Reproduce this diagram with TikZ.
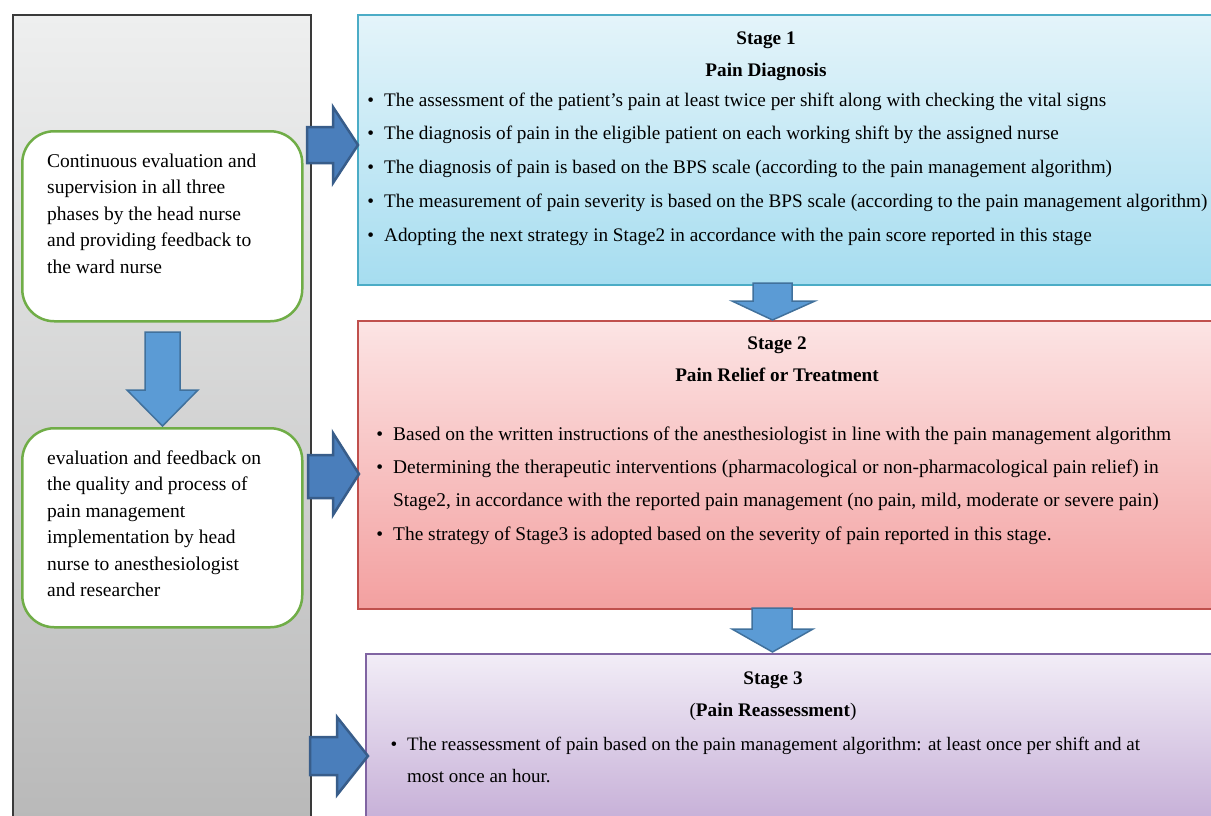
\documentclass[tikz,border=0pt]{standalone}
\usepackage{fontspec}
\setmainfont{Liberation Serif}
\usepackage{enumitem}
\usepackage{xcolor}

\definecolor{panelline}{HTML}{3A3A3A}
\definecolor{paneltop}{HTML}{EEEFEF}
\definecolor{panelbottom}{HTML}{B8B8B8}
\definecolor{notegreen}{HTML}{70AD47}
\definecolor{diagline}{HTML}{4BACC6}
\definecolor{diagtop}{HTML}{E4F4FA}
\definecolor{diagbottom}{HTML}{A6DDF0}
\definecolor{reliefline}{HTML}{C0504D}
\definecolor{relieftop}{HTML}{FCE4E4}
\definecolor{reliefbottom}{HTML}{F3A0A0}
\definecolor{reassline}{HTML}{8064A2}
\definecolor{reasstop}{HTML}{F2EDF7}
\definecolor{reassbottom}{HTML}{C3ABD5}
\definecolor{arrowfill}{HTML}{4A7EBB}
\definecolor{arrowline}{HTML}{385D8A}
\definecolor{downfill}{HTML}{5B9BD5}
\definecolor{downline}{HTML}{41719C}

\tikzset{
    side-panel/.style = {draw=panelline, line width=1.5pt, top color=paneltop, bottom color=panelbottom, rectangle, anchor=north west, inner sep=0pt},
    note-box/.style = {draw=notegreen, fill=white, line width=2.5pt, rectangle, rounded corners=32pt, anchor=north west, inner sep=0pt, minimum width=280pt},
    note-text/.style = {anchor=base west, inner sep=0pt, font=\fontsize{19.5}{26.5}\selectfont},
    stage-box/.style = {rectangle, line width=1.5pt, anchor=north west, inner sep=0pt, minimum width=870pt},
    stage-title/.style = {anchor=base, inner sep=0pt, font=\fontsize{19.2}{32}\selectfont\bfseries},
    stage-list/.style = {anchor=base west, inner sep=0pt},
    block-right/.style = {draw=arrowline, fill=arrowfill, line width=2.5pt, line join=miter},
    block-down/.style = {draw=downline, fill=downfill, line width=1.5pt, line join=miter},
}
\setlist[itemize]{label=\textbullet, leftmargin=17pt, labelsep=10pt, topsep=0pt, partopsep=0pt, itemsep=0pt, parsep=0pt}

\begin{document}
\begin{tikzpicture}[x=1pt, y=-1pt]
\useasboundingbox (0,0) rectangle (1211,815);
\clip (0,0) rectangle (1211,815);

% left column
\node [side-panel, minimum width=298pt, minimum height=820pt] (panel) at (12,14) {};
\node [note-box, minimum height=190pt] (cont-eval) at (21,130) {};
\node [note-box, minimum height=199pt] (feedback) at (21,427) {};
\node [note-text] (cont-eval-text) at (47,167) {\begin{minipage}[t]{250pt}
    Continuous evaluation and\\supervision in all three\\phases by the head nurse\\and providing feedback to\\the ward nurse
\end{minipage}};
\node [note-text] (feedback-text) at (47,464) {\begin{minipage}[t]{250pt}
    evaluation and feedback on\\the quality and process of\\pain management\\implementation by head\\nurse to anesthesiologist\\and researcher
\end{minipage}};

% stages
\node [stage-box, draw=diagline, top color=diagtop, bottom color=diagbottom, minimum height=270pt] (stage1) at (357,14) {};
\node [stage-box, draw=reliefline, top color=relieftop, bottom color=reliefbottom, minimum height=288pt] (stage2) at (357,320) {};
\node [stage-box, draw=reassline, top color=reasstop, bottom color=reassbottom, minimum height=180pt] (stage3) at (365,653) {};

\node [stage-title] (stage1-title) at (766,44) {\begin{minipage}[t]{400pt}\centering
    Stage 1\\Pain Diagnosis
\end{minipage}};
\node [stage-list] (stage1-list) at (367,106) {\begin{minipage}[t]{880pt}
    \fontsize{19.2}{33.75}\selectfont
    \begin{itemize}
        \item The assessment of the patient's pain at least twice per shift along with checking the vital signs
        \item The diagnosis of pain in the eligible patient on each working shift by the assigned nurse
        \item The diagnosis of pain is based on the BPS scale (according to the pain management algorithm)
        \item The measurement of pain severity is based on the BPS scale (according to the pain management algorithm)
        \item Adopting the next strategy in Stage2 in accordance with the pain score reported in this stage
    \end{itemize}
\end{minipage}};

\node [stage-title] (stage2-title) at (777,349) {\begin{minipage}[t]{400pt}\centering
    Stage 2\\Pain Relief or Treatment
\end{minipage}};
\node [stage-list] (stage2-list) at (376,440) {\begin{minipage}[t]{880pt}
    \fontsize{19.4}{33.4}\selectfont
    \begin{itemize}
        \item Based on the written instructions of the anesthesiologist in line with the pain management algorithm
        \item Determining the therapeutic interventions (pharmacological or non-pharmacological pain relief) in\\
              Stage2, in accordance with the reported pain management (no pain, mild, moderate or severe pain)
        \item The strategy of Stage3 is adopted based on the severity of pain reported in this stage.
    \end{itemize}
\end{minipage}};

\node [stage-title] (stage3-title) at (773,684) {\begin{minipage}[t]{400pt}\centering
    Stage 3\\{\mdseries(}Pain Reassessment{\mdseries)}
\end{minipage}};
\node [stage-list] (stage3-list) at (390,750) {\begin{minipage}[t]{880pt}
    \fontsize{19}{32}\selectfont
    \begin{itemize}
        \item The reassessment of pain based on the pain management algorithm: at least once per shift and at\\
              most once an hour.
    \end{itemize}
\end{minipage}};

% block arrows
\draw [block-right] (307,127) -- (333,127) -- (333,107) -- (358,145) -- (333,183) -- (333,163) -- (307,163) -- cycle;
\draw [block-right] (308,455) -- (333,455) -- (333,433) -- (359,474) -- (333,515) -- (333,498) -- (308,498) -- cycle;
\draw [block-right] (310,737) -- (337,737) -- (337,717) -- (368,756) -- (337,795) -- (337,775) -- (310,775) -- cycle;
\draw [block-down] (145,332) -- (180,332) -- (180,390) -- (198,390) -- (162.5,426) -- (127,390) -- (145,390) -- cycle;
\draw [block-down] (753,283) -- (792,283) -- (792,301) -- (815,301) -- (772.5,320) -- (732,301) -- (753,301) -- cycle;
\draw [block-down] (752,608) -- (792,608) -- (792,629) -- (813,629) -- (772.5,652) -- (732,629) -- (752,629) -- cycle;
\end{tikzpicture}
\end{document}
